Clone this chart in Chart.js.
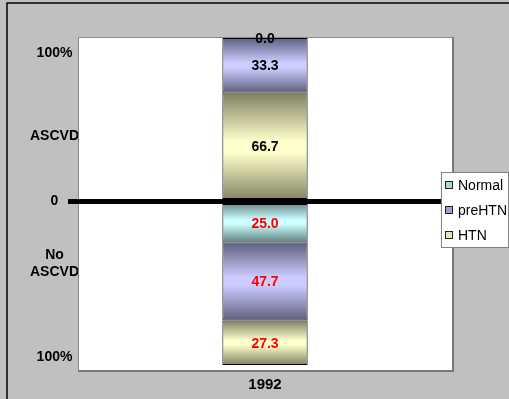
<!DOCTYPE html>
<html>
<head>
<meta charset="utf-8">
<title>Blood pressure status, ASCVD vs no ASCVD, 1992</title>
<script src="https://cdn.jsdelivr.net/npm/chart.js@4/dist/chart.umd.min.js"></script>
<style>
  html, body { margin: 0; padding: 0; background: #c0c0c0; overflow: hidden; }
  canvas { display: block; }
</style>
</head>
<body>
<canvas id="c" width="509" height="399"></canvas>
<script>
// Categories and series
const categories = ['1992'];
const seriesNames = ['Normal', 'preHTN', 'HTN'];
// Percent of subjects in each blood-pressure class (order follows seriesNames)
const ascvdValues = [0.0, 33.3, 66.7];
const noAscvdValues = [25.0, 47.7, 27.3];
// Y axis: positions and texts of the side labels
const yTickValues = [91, 40, 0, -38, -95];
const yTickLabels = ['100%', 'ASCVD', '0', ['No', 'ASCVD'], '100%'];

// Shading per series: dark edge -> light middle -> dark edge
const shades = [
  { edge: '#5f7f7f', mid: '#ccffff', key: '#a6dada' },
  { edge: '#5f5f80', mid: '#ccccff', key: '#9c9cd6' },
  { edge: '#7f7f62', mid: '#ffffcc', key: '#e6e6b0' }
];

const FONT = "'Liberation Sans', Arial, sans-serif";

// Stacking order away from the zero line:
// above zero HTN, preHTN, Normal; below zero Normal, preHTN, HTN
function buildGroup(order, values, sign, group) {
  let acc = 0;
  return order.map(k => {
    const v = sign * values[k];
    const from = acc;
    acc += v;
    return { k, v, from, to: acc, group };
  });
}
const segments = [
  ...buildGroup([2, 1, 0], ascvdValues, 1, 'ascvd'),
  ...buildGroup([0, 1, 2], noAscvdValues, -1, 'none')
];

function shadeFor(seg) {
  return (c) => {
    const chart = c.chart;
    const y = chart.scales && chart.scales.y;
    const s = shades[seg.k];
    if (!y || !chart.chartArea) return s.mid;
    const top = y.getPixelForValue(Math.max(seg.from, seg.to));
    const bot = y.getPixelForValue(Math.min(seg.from, seg.to));
    if (bot - top < 1) return s.mid;
    const g = chart.ctx.createLinearGradient(0, top, 0, bot);
    g.addColorStop(0, s.edge);
    g.addColorStop(0.45, s.mid);
    g.addColorStop(0.55, s.mid);
    g.addColorStop(1, s.edge);
    return g;
  };
}

const datasets = segments.map(seg => ({
  label: seriesNames[seg.k],
  data: [seg.v],
  group: seg.group,
  backgroundColor: shadeFor(seg),
  borderColor: '#000000',
  borderWidth: 1,
  borderSkipped: false,
  stack: 'bp',
  barPercentage: 0.228,
  categoryPercentage: 1.0
}));

// Grey frame and white plot area with its border
const framePlugin = {
  id: 'frame',
  beforeDraw(chart) {
    const { ctx, chartArea: a, width, height } = chart;
    ctx.save();
    ctx.fillStyle = '#c0c0c0';
    ctx.fillRect(0, 0, width, height);
    // outer frame: left and top edges
    ctx.strokeStyle = '#000000';
    ctx.lineWidth = 1.5;
    ctx.beginPath();
    ctx.moveTo(7, height);
    ctx.lineTo(7, 3);
    ctx.lineTo(width, 3);
    ctx.stroke();
    ctx.fillStyle = '#ffffff';
    ctx.fillRect(a.left, a.top, a.right - a.left, a.bottom - a.top);
    ctx.strokeStyle = '#8a8a8a';
    ctx.lineWidth = 1;
    ctx.beginPath();
    ctx.moveTo(a.left + 0.5, a.bottom);
    ctx.lineTo(a.left + 0.5, a.top - 0.5);
    ctx.lineTo(a.right, a.top - 0.5);
    ctx.stroke();
    ctx.strokeStyle = '#7a7a7a';
    ctx.lineWidth = 2;
    ctx.beginPath();
    ctx.moveTo(a.right + 1, a.top - 1);
    ctx.lineTo(a.right + 1, a.bottom + 1);
    ctx.lineTo(a.left, a.bottom + 1);
    ctx.stroke();
    ctx.restore();
  }
};

// Value written in the middle of each segment
const valueLabels = {
  id: 'valueLabels',
  afterDraw(chart) {
    const { ctx } = chart;
    ctx.save();
    ctx.font = 'bold 14px ' + FONT;
    ctx.textAlign = 'center';
    ctx.textBaseline = 'middle';
    chart.data.datasets.forEach((ds, i) => {
      const meta = chart.getDatasetMeta(i);
      meta.data.forEach((el, j) => {
        const v = ds.data[j];
        ctx.fillStyle = ds.group === 'ascvd' ? '#000000' : '#ff0000';
        ctx.fillText(Math.abs(v).toFixed(1), el.x, (el.y + el.base) / 2 + 1);
      });
    });
    ctx.restore();
  }
};

// Boxed key at the right edge
const keyBox = {
  id: 'keyBox',
  afterDraw(chart) {
    const { ctx, chartArea: a } = chart;
    const x = a.right - 11, y = 172, w = 67, h = 75;
    ctx.save();
    ctx.fillStyle = '#ffffff';
    ctx.fillRect(x, y, w, h);
    ctx.strokeStyle = '#808080';
    ctx.lineWidth = 1;
    ctx.strokeRect(x + 0.5, y + 0.5, w, h);
    ctx.font = '14px ' + FONT;
    ctx.textBaseline = 'middle';
    ctx.textAlign = 'left';
    seriesNames.forEach((name, k) => {
      const cy = y + 13 + k * 25;
      ctx.fillStyle = shades[k].key;
      ctx.fillRect(x + 4, cy - 4, 7, 7);
      ctx.strokeStyle = '#222222';
      ctx.strokeRect(x + 4.5, cy - 3.5, 7, 7);
      ctx.fillStyle = '#000000';
      ctx.fillText(name, x + 17, cy + 1);
    });
    ctx.restore();
  }
};

new Chart(document.getElementById('c'), {
  type: 'bar',
  data: { labels: categories, datasets },
  options: {
    responsive: false,
    animation: false,
    layout: { padding: { left: 0, top: 38, right: 57, bottom: 0 } },
    plugins: {
      legend: { display: false },
      tooltip: { enabled: false }
    },
    scales: {
      x: {
        stacked: true,
        grid: { display: false, drawTicks: false },
        border: { display: false },
        ticks: {
          color: '#000000',
          font: { family: FONT, size: 15, weight: 'bold' },
          padding: 6
        },
        afterFit(scale) { scale.height = 29; }
      },
      y: {
        stacked: true,
        min: -103,
        max: 100,
        z: 1,
        border: { display: false },
        grid: {
          color: (c) => (c.tick && c.tick.value === 0 ? '#000000' : 'rgba(0,0,0,0)'),
          lineWidth: (c) => (c.tick && c.tick.value === 0 ? 5 : 0),
          drawTicks: true,
          tickLength: 10
        },
        afterBuildTicks(scale) {
          scale.ticks = yTickValues.map(v => ({ value: v }));
        },
        ticks: {
          autoSkip: false,
          color: '#000000',
          crossAlign: 'center',
          padding: -11,
          font: { family: FONT, size: 14, weight: 'bold' },
          callback: (value, index) => yTickLabels[index]
        },
        afterFit(scale) { scale.width = 78; }
      }
    }
  },
  plugins: [framePlugin, valueLabels, keyBox]
});
</script>
</body>
</html>
